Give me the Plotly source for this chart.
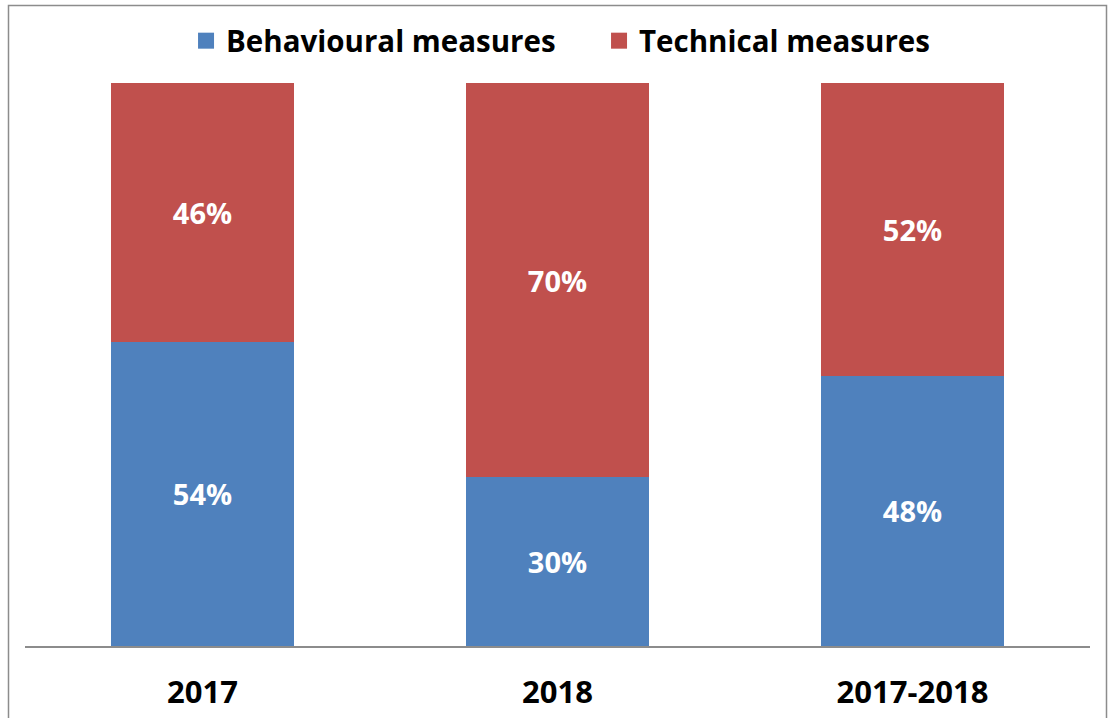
import plotly.graph_objects as go

# Chart data
categories = ["2017", "2018", "2017-2018"]
behavioural = [54, 30, 48]
technical = [46, 70, 52]
series_names = ["Behavioural measures", "Technical measures"]
series_colors = ["#4F81BD", "#C0504D"]

W, H = 1119, 718
PLOT_L, PLOT_R, PLOT_T, PLOT_B = 25, 1090, 83, 646

font_family = "Open Sans, Noto Sans, DejaVu Sans, sans-serif"

fig = go.Figure()

for vals, nm, col in zip([behavioural, technical], series_names, series_colors):
    fig.add_trace(
        go.Bar(
            x=categories,
            y=vals,
            name=nm,
            showlegend=False,
            marker=dict(color=col, line=dict(width=0)),
            width=0.513,
            texttemplate="<b>%{y}%</b>",
            textposition="inside",
            insidetextanchor="middle",
            textfont=dict(color="white", size=29, family=font_family),
        )
    )

# legend entries with bigger square swatches
for nm, col in zip(series_names, series_colors):
    fig.add_trace(
        go.Scatter(
            x=[None], y=[None],
            mode="markers",
            name=f"<b>{nm}</b>",
            marker=dict(symbol="square", size=20, color=col),
            showlegend=True,
        )
    )

# outer frame around the chart area
pw = PLOT_R - PLOT_L
ph = PLOT_B - PLOT_T
fig.add_shape(
    type="rect",
    xref="paper", yref="paper",
    x0=(8.5 - PLOT_L) / pw, x1=(1106.5 - PLOT_L) / pw,
    y0=(PLOT_B - 730) / ph, y1=(PLOT_B - 5.5) / ph,
    line=dict(color="#8c8c8c", width=1.5),
    layer="below",
)

fig.update_layout(
    width=W,
    height=H,
    barmode="stack",
    paper_bgcolor="white",
    plot_bgcolor="white",
    margin=dict(l=PLOT_L, r=W - PLOT_R, t=PLOT_T, b=H - PLOT_B, autoexpand=False),
    font=dict(family=font_family, color="black"),
    showlegend=True,
    legend=dict(
        orientation="h",
        x=0.539,
        xanchor="center",
        y=(PLOT_B - 41) / ph,
        yanchor="middle",
        font=dict(size=29.5, family=font_family, color="black"),
        itemsizing="trace",
        traceorder="normal",
        itemwidth=30,
        entrywidth=368,
        bgcolor="rgba(0,0,0,0)",
    ),
    xaxis=dict(
        showgrid=False,
        showline=True,
        linecolor="#8c8c8c",
        linewidth=1.5,
        ticks="",
        tickmode="array",
        tickvals=categories,
        ticktext=[f"<b>{c}</b>" for c in categories],
        tickfont=dict(size=31, family=font_family, color="black"),
        ticklabelstandoff=18,
    ),
    yaxis=dict(
        range=[0, 100],
        visible=False,
        showgrid=False,
    ),
)

# drop the default page margin so the figure sits at the window's corner
fig.write_html(
    "out.html",
    config={"displayModeBar": False},
    post_script="document.body.style.margin='0';",
)
